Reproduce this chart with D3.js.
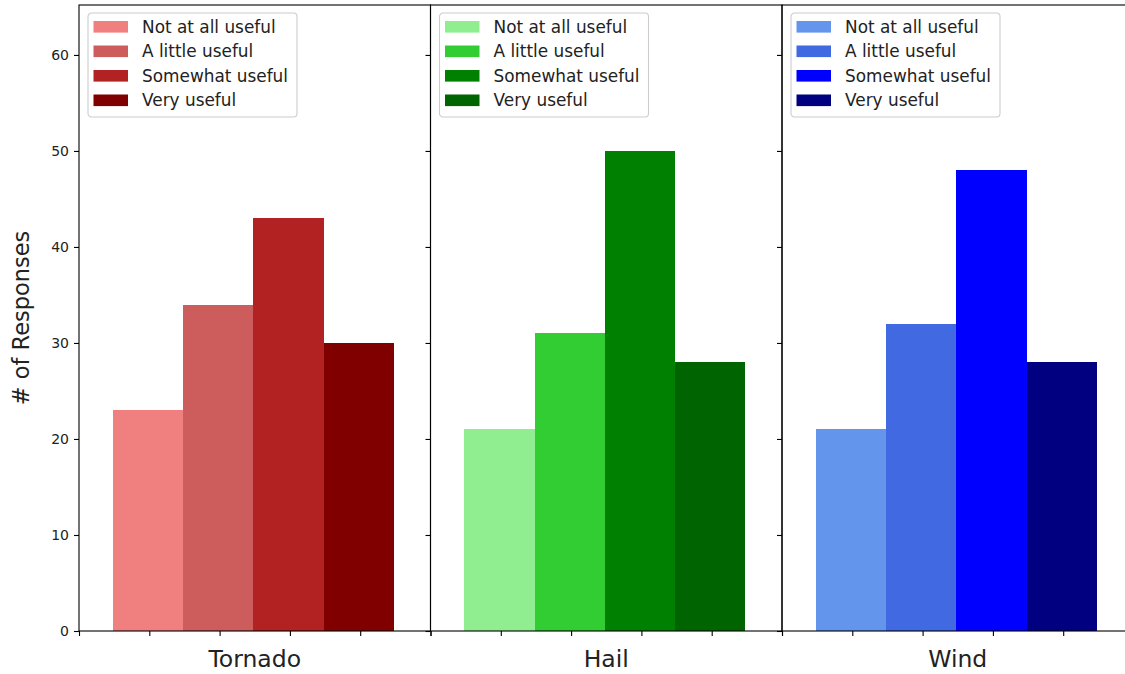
<!DOCTYPE html>
<html><head><meta charset="utf-8">
<script src="https://cdn.jsdelivr.net/npm/d3@7"></script>
<style>
html,body{margin:0;padding:0;background:#fff;overflow:hidden;}
svg{display:block;font-family:"DejaVu Sans",sans-serif;}
</style></head>
<body>
<svg id="chart" width="1125" height="674"></svg>
<script>
const categories = ["Tornado", "Hail", "Wind"];
const responses = ["Not at all useful", "A little useful", "Somewhat useful", "Very useful"];
const tornadoValues = [23, 34, 43, 30];
const hailValues = [21, 31, 50, 28];
const windValues = [21, 32, 48, 28];
const tornadoColors = ["lightcoral", "indianred", "firebrick", "maroon"];
const hailColors = ["lightgreen", "limegreen", "green", "darkgreen"];
const windColors = ["cornflowerblue", "royalblue", "blue", "navy"];
const yTicks = [0, 10, 20, 30, 40, 50, 60];
const xTicks = [0, 1, 2, 3, 4, 5];

const seriesValues = [tornadoValues, hailValues, windValues];
const seriesColors = [tornadoColors, hailColors, windColors];

const svg = d3.select("#chart");
const plotTop = 5, plotBottom = 631;
const panelLefts = [79, 430.5, 782];
const panelW = 351.5;

const y = d3.scaleLinear().domain([0, 65.2]).range([plotBottom, plotTop]);

categories.forEach((cat, ci) => {
  const x0 = panelLefts[ci];
  const x = d3.scaleLinear().domain([0, 5]).range([x0, x0 + panelW]);
  const g = svg.append("g");
  const vals = seriesValues[ci], cols = seriesColors[ci];

  g.selectAll("rect.bar").data(vals).enter().append("rect")
    .attr("class", "bar")
    .attr("shape-rendering", "crispEdges")
    .attr("x", (d, i) => x(i + 0.48))
    .attr("width", (d, i) => x(i + 1.48) - x(i + 0.48))
    .attr("y", d => y(d))
    .attr("height", d => y(0) - y(d))
    .attr("fill", (d, i) => cols[i]);

  const ya = d3.axisLeft(y).tickValues(yTicks).tickSize(5).tickPadding(5)
    .tickFormat(ci === 0 ? d3.format("d") : () => "");
  const yg = g.append("g").attr("transform", `translate(${x0},0)`).call(ya);
  yg.select(".domain").remove();
  yg.selectAll("line").attr("stroke", "#000").attr("stroke-width", 1.1);
  yg.selectAll("text").attr("font-size", "14px").attr("fill", "#222")
    .attr("font-family", "DejaVu Sans");

  const xa = d3.axisBottom(x).tickValues(xTicks).tickSize(5).tickFormat(() => "");
  const xg = g.append("g").attr("transform", `translate(0,${plotBottom})`).call(xa);
  xg.select(".domain").remove();
  xg.selectAll("line").attr("stroke", "#000").attr("stroke-width", 1.1);

  g.append("rect").attr("x", x0).attr("y", plotTop).attr("width", panelW).attr("height", plotBottom - plotTop)
    .attr("fill", "none").attr("stroke", "#000").attr("stroke-width", 1.1);

  g.append("text").attr("x", x(2.5)).attr("y", 667).attr("text-anchor", "middle")
    .attr("font-size", "23.5px").attr("fill", "#222").text(cat);

  const lg = g.append("g").attr("transform", `translate(${x0 + 9},13)`);
  lg.append("rect").attr("x", 0).attr("y", 0).attr("width", 209).attr("height", 104)
    .attr("rx", 3.5).attr("fill", "#fff").attr("fill-opacity", 0.8)
    .attr("stroke", "#cccccc").attr("stroke-width", 1.1);
  responses.forEach((r, ri) => {
    const cy = 13.8 + ri * 24.5;
    lg.append("rect").attr("x", 5.5).attr("y", cy - 5.8).attr("width", 34.5).attr("height", 11.6)
      .attr("fill", cols[ri]);
    lg.append("text").attr("x", 54).attr("y", cy).attr("dy", "0.36em")
      .attr("font-size", "16.9px").attr("fill", "#222").text(r);
  });
});

svg.append("text").attr("transform", `translate(29,${(plotTop + plotBottom) / 2}) rotate(-90)`)
  .attr("text-anchor", "middle").attr("font-size", "22.5px").attr("fill", "#222")
  .text("# of Responses");
</script>
</body></html>
